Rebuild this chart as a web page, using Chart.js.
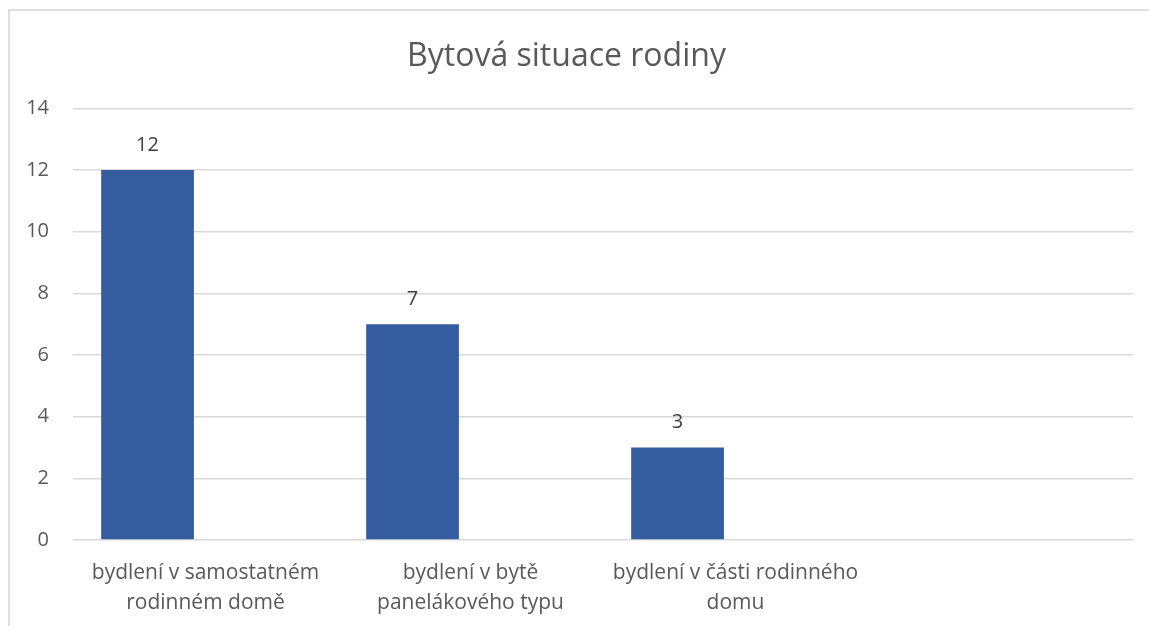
<!DOCTYPE html>
<html>
<head>
<meta charset="utf-8">
<script src="https://cdn.jsdelivr.net/npm/chart.js@4"></script>
<style>
    html, body { margin: 0; padding: 0; background: #fff; overflow: hidden; }
    .frame {
        position: absolute; left: 8px; top: 9px;
        width: 1200px; height: 700px;
        border: 2px solid #dedede;
    }
    #chart { position: absolute; left: 0; top: 0; }
</style>
</head>
<body>
<div class="frame"></div>
<canvas id="chart" width="1149" height="626"></canvas>
<script>
    // chart data
    const chartTitle = 'Bytová situace rodiny';
    const categories = [
        ['bydlení v samostatném', 'rodinném domě'],
        ['bydlení v bytě', 'panelákového typu'],
        ['bydlení v části rodinného', 'domu'],
        ''
    ];
    const seriesValues = [12, 7, 3, null];
    const emptySeries = [null, null, null, null]; // second (empty) series, keeps Excel's bar offset
    const yTicks = [0, 2, 4, 6, 8, 10, 12, 14];

    const textColor = '#595959';
    const fontFamily = '"Open Sans", sans-serif';

    // draw value labels above the bars
    const valueLabels = {
        id: 'valueLabels',
        afterDatasetsDraw(chart) {
            const ctx = chart.ctx;
            const meta = chart.getDatasetMeta(0);
            ctx.save();
            ctx.font = '20px ' + fontFamily;
            ctx.fillStyle = '#404040';
            ctx.textAlign = 'center';
            ctx.textBaseline = 'middle';
            meta.data.forEach((bar, i) => {
                const v = seriesValues[i];
                if (v === null) return;
                ctx.fillText(String(v), bar.x, bar.y - 25);
            });
            ctx.restore();
        }
    };

    new Chart(document.getElementById('chart'), {
        type: 'bar',
        data: {
            labels: categories,
            datasets: [
                { label: 'Řada 1', data: seriesValues, backgroundColor: '#355C9F',
                  categoryPercentage: 0.875, barPercentage: 0.8 },
                { label: 'Řada 2', data: emptySeries, backgroundColor: '#ED7D31',
                  categoryPercentage: 0.875, barPercentage: 0.8 }
            ]
        },
        options: {
            responsive: false,
            animation: false,
            layout: { padding: { top: 4, right: 16, bottom: 0, left: 0 } },
            plugins: {
                legend: { display: false },
                tooltip: { enabled: false },
                title: {
                    display: true,
                    text: chartTitle,
                    color: textColor,
                    font: { family: fontFamily, size: 32, weight: 'normal' },
                    padding: { top: 34, bottom: 32 }
                }
            },
            scales: {
                x: {
                    grid: { display: false },
                    border: { display: false },
                    ticks: {
                        color: textColor,
                        font: { family: fontFamily, size: 21, lineHeight: 1.43 },
                        maxRotation: 0,
                        autoSkip: false,
                        padding: 10
                    },
                    afterFit(scale) { scale.height = 86; }
                },
                y: {
                    min: 0,
                    max: 14,
                    afterBuildTicks(scale) { scale.ticks = yTicks.map(v => ({ value: v })); },
                    grid: { color: '#d9d9d9', lineWidth: 1.5, drawTicks: false },
                    border: { display: false },
                    ticks: {
                        color: textColor,
                        font: { family: fontFamily, size: 20 },
                        padding: 24
                    },
                    afterFit(scale) { scale.width = 73; }
                }
            }
        },
        plugins: [valueLabels]
    });
</script>
</body>
</html>
